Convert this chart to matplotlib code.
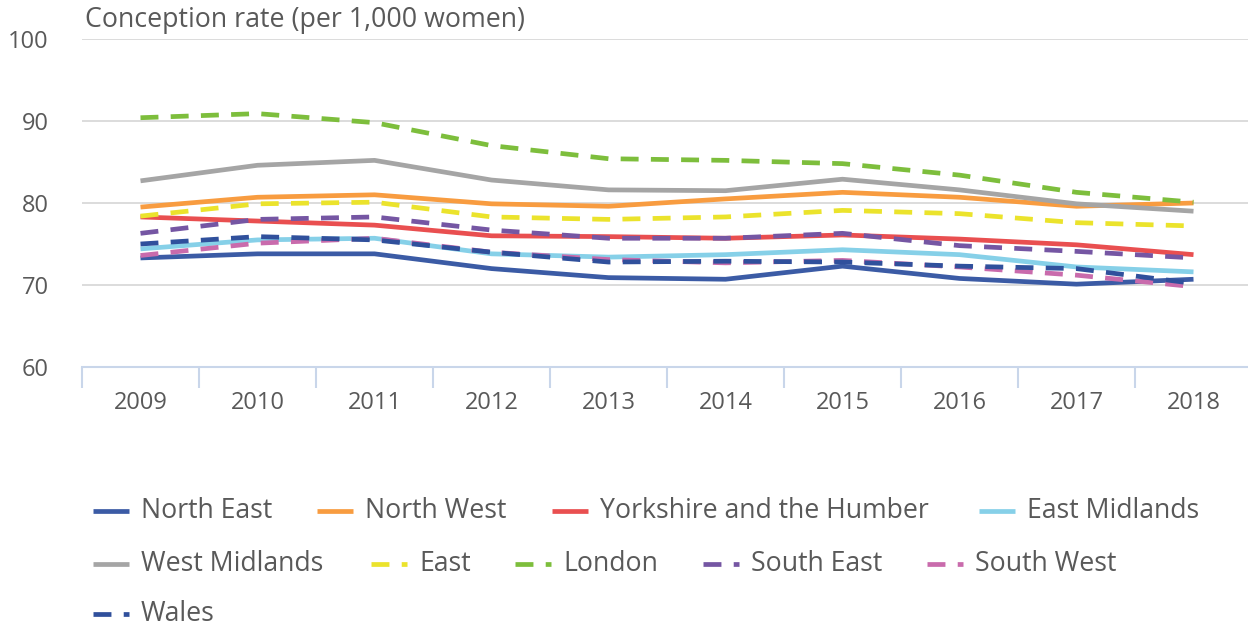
import matplotlib.pyplot as plt
from matplotlib.lines import Line2D

plt.rcParams['font.family'] = ['Open Sans', 'DejaVu Sans']

years = [2009, 2010, 2011, 2012, 2013, 2014, 2015, 2016, 2017, 2018]

north_east = [73.3, 73.8, 73.8, 72.0, 70.9, 70.7, 72.3, 70.8, 70.1, 70.7]
north_west = [79.5, 80.7, 81.0, 79.9, 79.6, 80.5, 81.3, 80.7, 79.6, 80.0]
yorkshire = [78.3, 77.8, 77.3, 76.0, 75.9, 75.7, 76.1, 75.6, 74.9, 73.7]
east_midlands = [74.4, 75.5, 75.7, 73.8, 73.4, 73.7, 74.3, 73.7, 72.2, 71.6]
west_midlands = [82.7, 84.6, 85.2, 82.8, 81.6, 81.5, 82.9, 81.6, 79.9, 79.0]
east = [78.4, 79.9, 80.1, 78.3, 78.0, 78.3, 79.1, 78.7, 77.6, 77.2]
london = [90.4, 90.9, 89.8, 87.0, 85.4, 85.2, 84.8, 83.4, 81.3, 80.1]
south_east = [76.3, 78.0, 78.3, 76.7, 75.7, 75.7, 76.3, 74.8, 74.1, 73.3]
south_west = [73.6, 75.1, 75.7, 74.0, 73.1, 72.7, 73.0, 72.2, 71.2, 69.8]
wales = [75.0, 75.9, 75.5, 74.0, 72.8, 72.9, 72.8, 72.3, 72.0, 70.2]

series = [
    ('North East', north_east, '#3b5ba5', 'solid'),
    ('North West', north_west, '#f89c40', 'solid'),
    ('Yorkshire and the Humber', yorkshire, '#e94f50', 'solid'),
    ('East Midlands', east_midlands, '#86d0e8', 'solid'),
    ('West Midlands', west_midlands, '#a5a5a5', 'solid'),
    ('East', east, '#ebe32c', 'dash'),
    ('London', london, '#7dbe3c', 'dash'),
    ('South East', south_east, '#7556a3', 'dash'),
    ('South West', south_west, '#c96bac', 'dash'),
    ('Wales', wales, '#30509c', 'dash'),
]

text_col = '#595959'
axis_col = '#c9d6ea'

fig = plt.figure(figsize=(12.48, 6.29), dpi=100)
ax = fig.add_axes([82 / 1248, 1 - 367 / 629, 1170 / 1248, 328 / 629])

lw = 3.4
dash = (3.8, 2.6)
for name, vals, col, style in series:
    line, = ax.plot(years, vals, color=col, lw=lw, solid_capstyle='butt',
                    dash_capstyle='butt', label=name)
    if style == 'dash':
        line.set_dashes(dash)

ax.set_xlim(2008.5, 2018.5)
ax.set_ylim(60, 100)
ax.set_yticks([60, 70, 80, 90, 100])
ax.yaxis.grid(True, color='#d9d9d9', lw=1.3)
ax.set_axisbelow(True)
for s in ['top', 'right', 'left']:
    ax.spines[s].set_visible(False)
ax.spines['bottom'].set_color(axis_col)
ax.spines['bottom'].set_linewidth(1.5)
ax.tick_params(axis='y', length=0, labelsize=17, labelcolor=text_col, pad=24)

ax.set_xticks(years)
ax.set_xticklabels([str(y) for y in years])
ax.set_xticks([y - 0.5 for y in years], minor=True)
ax.tick_params(axis='x', which='major', length=0, labelsize=17,
               labelcolor=text_col, pad=17)
ax.tick_params(axis='x', which='minor', length=15, width=1.5, color=axis_col)

fig.text(85 / 1248, 1 - 20 / 629, 'Conception rate (per 1,000 women)',
         fontsize=19.3, color=text_col, va='center', ha='left')

# legend laid out in Excel-style flowing rows
W, H = 1248, 629
rows = [
    [(0, 93), (1, 317), (2, 552), (3, 979)],
    [(4, 93), (5, 371), (6, 515), (7, 703), (8, 927)],
    [(9, 93)],
]
row_y = [511, 564, 614]
for row, yp in zip(rows, row_y):
    for idx, xp in row:
        name, vals, col, style = series[idx]
        y = 1 - yp / H
        ln = Line2D([xp / W, (xp + 36) / W], [y, y], transform=fig.transFigure,
                    color=col, lw=lw, solid_capstyle='butt', dash_capstyle='butt')
        if style == 'dash':
            ln.set_dashes(dash)
        fig.add_artist(ln)
        fig.text((xp + 48) / W, y, name, fontsize=19.2, color=text_col,
                 va='center', ha='left')

fig.savefig('out.png', dpi=100)
